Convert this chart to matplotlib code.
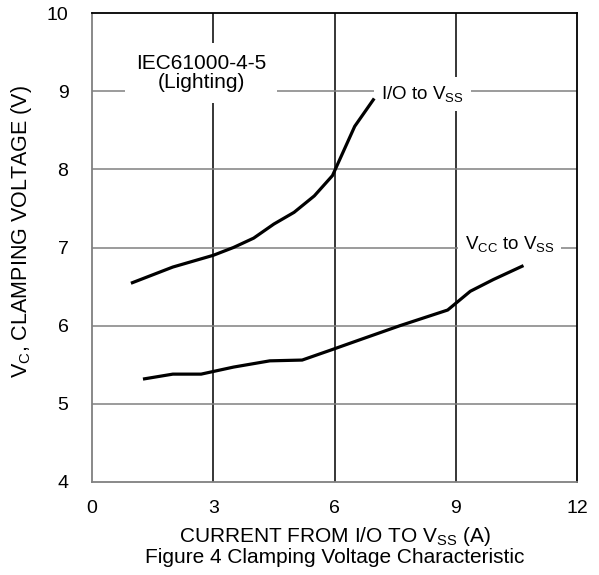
import matplotlib
matplotlib.use("Agg")
from matplotlib import pyplot as plt

plt.rcParams['font.family'] = ['Liberation Sans', 'DejaVu Sans']
plt.rcParams['mathtext.default'] = 'regular'

# curve data
io_x = [1.0, 2.0, 3.0, 3.5, 4.0, 4.5, 5.0, 5.5, 5.95, 6.5, 6.96]
io_v = [6.55, 6.75, 6.9, 7.0, 7.12, 7.3, 7.45, 7.66, 7.92, 8.55, 8.89]

vcc_x = [1.3, 2.0, 2.7, 3.5, 4.4, 5.2, 5.92, 6.63, 7.62, 8.8, 9.36, 9.93, 10.64]
vcc_v = [5.32, 5.38, 5.38, 5.47, 5.55, 5.56, 5.69, 5.82, 6.0, 6.2, 6.44, 6.59, 6.76]

xticks = [0, 3, 6, 9, 12]
yticks = [4, 5, 6, 7, 8, 9, 10]

fig = plt.figure(figsize=(5.99, 5.75), dpi=100)
ax = fig.add_axes([92/599, 1 - 482/575, (577-92)/599, (482-13)/575])

# grid: vertical black, horizontal grey
for x in xticks[1:-1]:
    ax.axvline(x, color='black', lw=1.1, zorder=1)
for y in yticks[1:-1]:
    ax.axhline(y, color='#808080', lw=1.1, zorder=1)

ax.plot(io_x, io_v, color='black', lw=2.3, zorder=3)
ax.plot(vcc_x, vcc_v, color='black', lw=2.3, zorder=3)

ax.set_xlim(0, 12)
ax.set_ylim(4, 10)
ax.set_xticks(xticks)
ax.set_yticks(yticks)
ax.tick_params(length=0, labelsize=14)
ax.tick_params(axis='y', pad=17)
ax.tick_params(axis='x', pad=13)

for s in ['left', 'bottom']:
    ax.spines[s].set_color('#808080')
for s in ['top', 'right']:
    ax.spines[s].set_color('black')
for s in ax.spines.values():
    s.set_linewidth(1.3)

ax.text(2.7, 9.23, 'IEC61000-4-5\n(Lighting)', ha='center', va='center',
        fontsize=15, linespacing=1.0,
        bbox=dict(facecolor='white', edgecolor='none', pad=8), zorder=2)
ax.text(8.18, 8.96, 'I/O to V$_{SS}$', ha='center', va='center', fontsize=13.5,
        bbox=dict(facecolor='white', edgecolor='none', pad=5), zorder=2)
ax.text(10.33, 7.04, 'V$_{CC}$ to V$_{SS}$', ha='center', va='center', fontsize=13.5,
        bbox=dict(facecolor='white', edgecolor='none', pad=5), zorder=2)

ax.set_ylabel('V$_{C}$, CLAMPING VOLTAGE (V)', fontsize=15.5)
ax.yaxis.set_label_coords(-0.12, 0.534)
ax.set_xlabel('CURRENT FROM I/O TO V$_{SS}$ (A)\nFigure 4 Clamping Voltage Characteristic',
              fontsize=15, labelpad=6, linespacing=0.95)

plt.savefig('out.png', dpi=100)
